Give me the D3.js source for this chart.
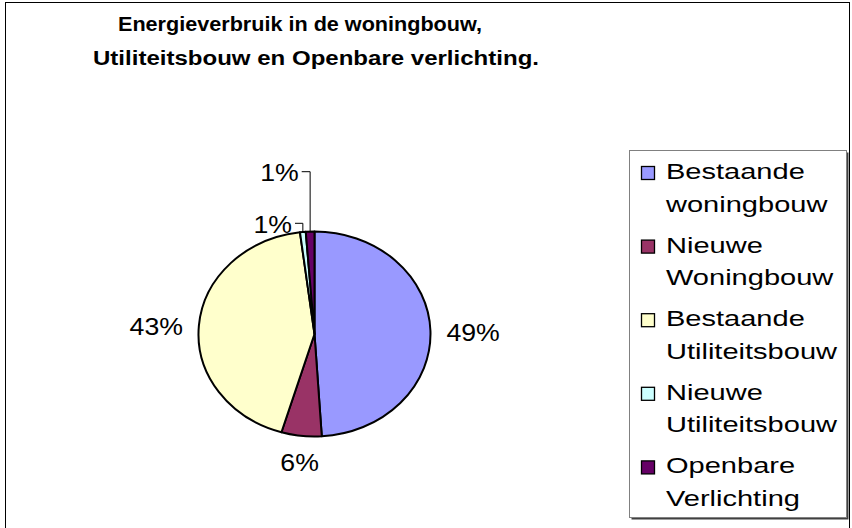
<!DOCTYPE html>
<html>
<head>
<meta charset="utf-8">
<script src="https://cdn.jsdelivr.net/npm/d3@7"></script>
<style>
  html, body { margin: 0; padding: 0; background: #ffffff; }
  svg { display: block; }
  text { font-family: "Liberation Sans", Arial, sans-serif; fill: #000; }
</style>
</head>
<body>
<svg id="chart" width="852" height="528"></svg>
<script>
// ---- data ----
const titleLines = ["Energieverbruik in de woningbouw,", "Utiliteitsbouw en Openbare verlichting."];
const categories = ["Bestaande woningbouw", "Nieuwe Woningbouw", "Bestaande Utiliteitsbouw", "Nieuwe Utiliteitsbouw", "Openbare Verlichting"];
const legendLines = [["Bestaande", "woningbouw"], ["Nieuwe", "Woningbouw"], ["Bestaande", "Utiliteitsbouw"], ["Nieuwe", "Utiliteitsbouw"], ["Openbare", "Verlichting"]];
const values = [49.0, 5.6, 43.4, 0.8, 1.2];
const labels = ["49%", "6%", "43%", "1%", "1%"];
const colors = ["#9999FF", "#993366", "#FFFFCC", "#CCFFFF", "#660066"];

// ---- layout ----
const svg = d3.select("#chart");

// outer frame
svg.append("rect").attr("x", 5.5).attr("y", 2.5).attr("width", 844).attr("height", 540)
  .attr("fill", "#fff").attr("stroke", "#000").attr("stroke-width", 1);

// title (stretched to the reference's widths)
const titleX = [300, 316];
const titleY = [31, 65];
const titleW = [364, 446];
titleLines.forEach((t, i) => {
  svg.append("text")
    .attr("x", titleX[i] - titleW[i] / 2).attr("y", titleY[i])
    .attr("textLength", titleW[i]).attr("lengthAdjust", "spacingAndGlyphs")
    .attr("font-size", 20).attr("font-weight", "bold")
    .text(t);
});

// pie (elliptical)
const cx = 314.5, cy = 334, rx = 116, ry = 102.5;
const pie = d3.pie().sort(null).value(d => d).startAngle(0).endAngle(2 * Math.PI);
const arcs = pie(values);
const arc = d3.arc().innerRadius(0).outerRadius(rx);

const pg = svg.append("g").attr("transform", `translate(${cx},${cy}) scale(1,${ry / rx})`);
pg.selectAll("path").data(arcs).enter().append("path")
  .attr("d", arc)
  .attr("fill", (d, i) => colors[i])
  .attr("stroke", "#000").attr("stroke-width", 2)
  .attr("stroke-linejoin", "round")
  .attr("vector-effect", "non-scaling-stroke");

// labels
const fs = 23, cap = 16.7, sx = 1.16;
function edge(a) { return [cx + rx * Math.sin(a), cy - ry * Math.cos(a)]; }

arcs.forEach((d, i) => {
  const a = (d.startAngle + d.endAngle) / 2;
  const [ex, ey] = edge(a);
  if (values[i] < 2) {
    // leader line labels for the tiny slices at the top
    const lineTop = i === 4 ? 171.7 : 223.3;
    const lineLeft = i === 4 ? 301.7 : 295;
    svg.append("polyline")
      .attr("points", `${ex},${ey} ${ex},${lineTop} ${lineLeft},${lineTop}`)
      .attr("fill", "none").attr("stroke", "#000").attr("stroke-width", 1);
    svg.append("text")
      .attr("transform", `translate(${lineLeft - 3},${lineTop + cap / 2 + 1}) scale(${sx},1)`)
      .attr("text-anchor", "end").attr("font-size", fs)
      .text(labels[i]);
    return;
  }
  const s = Math.sin(a), c = Math.cos(a);
  const gap = 16;
  const px = ex + gap * s, py = ey - gap * c;
  let anchor = "middle", by = py + cap / 2 + 2;
  if (s > 0.5) anchor = "start";
  else if (s < -0.5) anchor = "end";
  if (c < -0.5) by = py + cap + 3;
  svg.append("text")
    .attr("transform", `translate(${px},${by}) scale(${sx},1)`)
    .attr("text-anchor", anchor).attr("font-size", fs)
    .text(labels[i]);
});

// legend
const lg = svg.append("g");
lg.append("rect").attr("x", 631.5).attr("y", 152.5).attr("width", 217).attr("height", 367)
  .attr("fill", "#404040");
lg.append("rect").attr("x", 629.5).attr("y", 150.5).attr("width", 217).attr("height", 367)
  .attr("fill", "#fff").attr("stroke", "#808080").attr("stroke-width", 1);

const ly = d3.scaleBand().domain(categories).range([154, 522]);
categories.forEach((cat, i) => {
  const base = ly(cat) + 25;
  lg.append("rect").attr("x", 641.5).attr("y", base - 12.5).attr("width", 13).attr("height", 13)
    .attr("fill", colors[i]).attr("stroke", "#000").attr("stroke-width", 1.3);
  legendLines[i].forEach((t, j) => {
    lg.append("text")
      .attr("transform", `translate(666,${base + j * 32.5}) scale(1.32,1)`)
      .attr("font-size", 22)
      .text(t);
  });
});
</script>
</body>
</html>
